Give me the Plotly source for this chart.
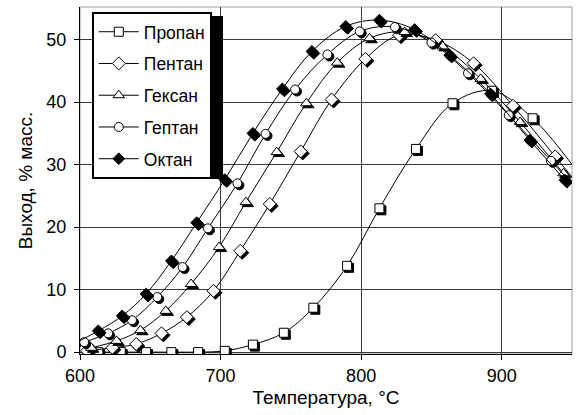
import plotly.graph_objects as go

# ---- data ----
names = ["Пропан", "Пентан", "Гексан", "Гептан", "Октан"]

t_propane = [613, 629, 647, 665, 684, 703, 723, 745, 766, 790, 813, 839, 865, 893, 922, 955]
y_propane = [0, 0, 0, 0, 0, 0.2, 1.2, 3.1, 7.1, 13.8, 23.0, 32.5, 39.8, 41.8, 37.4, 28.5]

t_pentane = [605, 623, 640, 658, 676, 695, 714, 735, 757, 779, 803, 827, 853, 880, 908, 938, 960]
y_pentane = [0.2, 0.7, 1.3, 3.0, 5.6, 9.8, 16.2, 23.7, 32.1, 40.4, 46.9, 50.7, 49.9, 46.2, 39.4, 31.3, 25.3]

t_hexane = [608, 626, 643, 661, 679, 699, 718, 740, 761, 783, 806, 831, 858, 885, 913, 944, 960]
y_hexane = [0.7, 1.8, 3.5, 6.6, 10.9, 16.8, 24.0, 32.0, 39.8, 46.3, 50.2, 51.2, 48.9, 43.7, 36.8, 28.6, 24.5]

t_heptane = [603, 620, 637, 655, 673, 691, 712, 732, 753, 776, 799, 824, 850, 876, 905, 935, 960]
y_heptane = [1.6, 3.0, 5.1, 8.8, 13.6, 19.8, 27.0, 34.9, 42.0, 47.6, 51.3, 52.0, 49.5, 44.6, 37.9, 30.6, 24.5]

t_octane = [595, 613, 630, 647, 665, 683, 703, 723, 744, 765, 789, 813, 838, 863, 892, 920, 945]
y_octane = [1.3, 3.4, 5.8, 9.3, 14.6, 20.7, 27.6, 35.0, 42.1, 48.1, 52.1, 53.1, 51.6, 47.5, 41.3, 33.9, 27.5]

x_ticks = [600, 700, 800, 900]
y_ticks = [0, 10, 20, 30, 40, 50]

# ---- styles ----
symbols = ["square", "diamond", "triangle-up", "circle", "diamond"]
fills = ["white", "white", "white", "white", "black"]
sizes = [9, 10, 10, 9, 9]
all_t = [t_propane, t_pentane, t_hexane, t_heptane, t_octane]
all_y = [y_propane, y_pentane, y_hexane, y_heptane, y_octane]

FONT = "Arial, Liberation Sans, sans-serif"
X_MIN, X_MAX = 600, 950
Y_MIN, Y_MAX = -0.3, 55.2
SH_DX, SH_DY = 1.4, -0.32  # marker shadow offset (~2px)

fig = go.Figure()
for i, (name, t, y) in enumerate(zip(names, all_t, all_y)):
    fig.add_trace(go.Scatter(
        x=[v + SH_DX for v in t], y=[v + SH_DY for v in y], mode="markers",
        marker=dict(symbol=symbols[i], size=sizes[i], color="black",
                    line=dict(color="black", width=1)),
        showlegend=False, hoverinfo="skip", legendgroup=name))
    fig.add_trace(go.Scatter(
        x=t, y=y, name=name, mode="lines+markers", legendgroup=name,
        line=dict(color="black", width=1, shape="spline", smoothing=1.0),
        marker=dict(symbol=symbols[i], size=sizes[i], color=fills[i],
                    line=dict(color="black", width=1))))

fig.update_layout(
    width=577, height=415,
    margin=dict(l=80, r=5, t=7, b=61),
    paper_bgcolor="white", plot_bgcolor="white",
    font=dict(family=FONT, size=17, color="black"),
    legend=dict(x=0.024, y=0.986, xanchor="left", yanchor="top",
                bgcolor="white", bordercolor="black", borderwidth=2,
                font=dict(size=17.5), traceorder="grouped", tracegroupgap=6,
                itemwidth=40),
    shapes=[
        dict(type="rect", xref="paper", yref="paper", x0=0, x1=1, y0=0, y1=1,
             line=dict(color="#a0a0a0", width=1), layer="below"),
        dict(type="rect", xref="paper", yref="paper", x0=0.0325, x1=0.2907,
             y0=0.504, y1=0.974, fillcolor="black", line=dict(width=0),
             layer="above"),
    ],
)
fig.update_xaxes(
    range=[X_MIN, X_MAX], tickvals=x_ticks, ticks="outside", ticklen=5,
    tickcolor="black", showline=True, linecolor="black", linewidth=1,
    showgrid=True, gridcolor="#3a3a3a", gridwidth=1, zeroline=False,
    tickfont=dict(size=18),
    title=dict(text="Температура, °C", font=dict(size=19), standoff=6))
fig.update_yaxes(
    range=[Y_MIN, Y_MAX], tickvals=y_ticks, ticks="outside", ticklen=5,
    tickcolor="black", showline=True, linecolor="black", linewidth=1,
    showgrid=True, gridcolor="#3a3a3a", gridwidth=1, zeroline=False,
    tickfont=dict(size=18), ticklabelstandoff=4,
    title=dict(text="Выход, % масс.", font=dict(size=19), standoff=8))

fig.write_html("out.html")
